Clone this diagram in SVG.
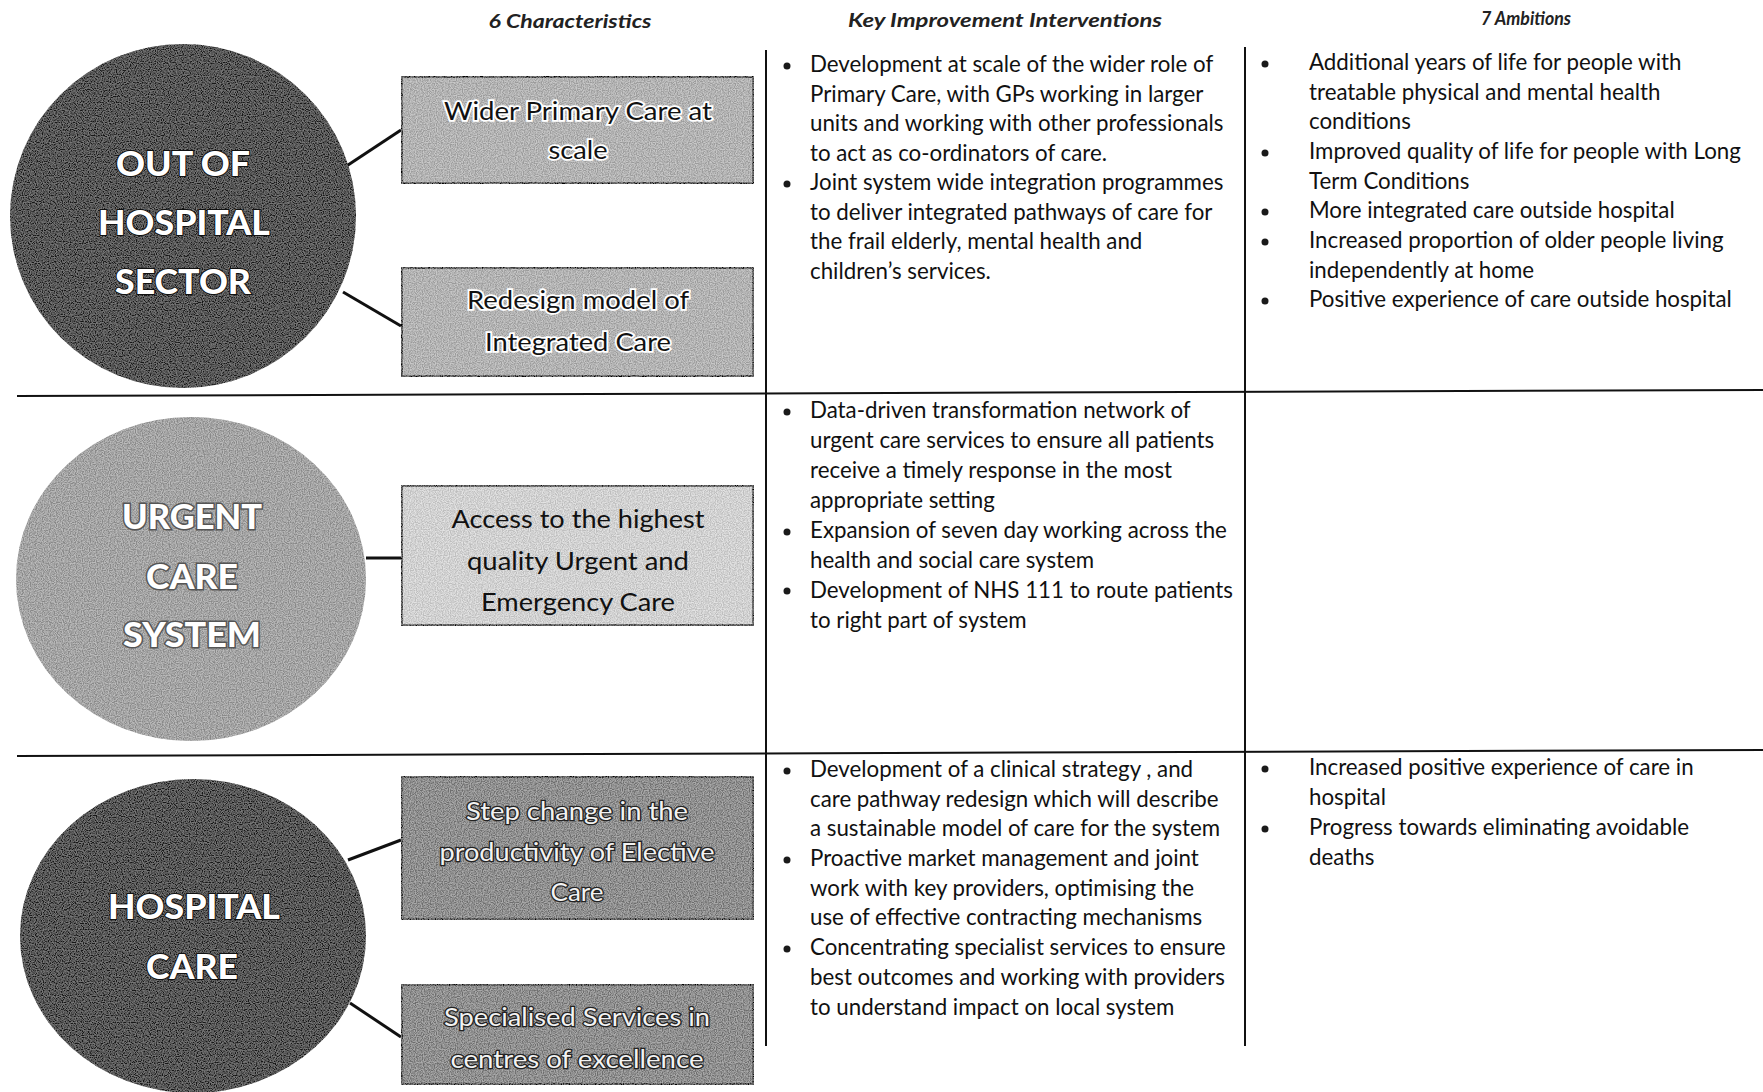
<svg xmlns="http://www.w3.org/2000/svg" width="1763" height="1092" viewBox="0 0 1763 1092">
<style>
.hdr{font-family:"Lato","Liberation Sans",sans-serif;font-style:italic;font-weight:bold;font-size:19px;fill:#222;text-anchor:middle}
.body{font-family:"Lato","Liberation Sans",sans-serif;font-size:22.3px;fill:#111}
.big{font-family:"Lato","Liberation Sans",sans-serif;font-weight:900;font-size:35px;text-anchor:middle;fill:#fff}
.bigdark{stroke:#111;stroke-width:2;paint-order:stroke}
.biglight{stroke:#555;stroke-width:3;paint-order:stroke}
.box{font-family:"Lato","Liberation Sans",sans-serif;font-size:25px;text-anchor:middle}
.bt1{fill:#111;stroke:#fff;stroke-width:3.5;paint-order:stroke}
.bt2{fill:#111}
.bt3{fill:#f2f2f2;stroke:#222;stroke-width:2.6;paint-order:stroke}
.rect{stroke:#111;stroke-width:3.5}
.grid{stroke:#111;stroke-width:2;fill:none}
.conn{stroke:#111;stroke-width:3;fill:none}
.dot{fill:#1a1a1a}
</style>
<defs>
<filter id="grain" x="0" y="0" width="100%" height="100%">
<feTurbulence type="fractalNoise" baseFrequency="0.85" numOctaves="1" seed="4" result="n"/>
<feColorMatrix in="n" type="matrix" values="3 0 0 0 -1  3 0 0 0 -1  3 0 0 0 -1  0 0 0 0 0.25" result="g"/>
<feComposite in="g" in2="SourceAlpha" operator="in" result="b"/>
<feMerge><feMergeNode in="SourceGraphic"/><feMergeNode in="b"/></feMerge>
</filter>
<filter id="grainDark" x="0" y="0" width="100%" height="100%">
<feTurbulence type="fractalNoise" baseFrequency="0.85" numOctaves="1" seed="7" result="n"/>
<feColorMatrix in="n" type="matrix" values="3 0 0 0 -1  3 0 0 0 -1  3 0 0 0 -1  0 0 0 0 0.18" result="g"/>
<feComposite in="g" in2="SourceAlpha" operator="in" result="b"/>
<feMerge><feMergeNode in="SourceGraphic"/><feMergeNode in="b"/></feMerge>
</filter>
</defs>
<rect width="1763" height="1092" fill="#fff"/>

<g id="headers">
<text class="hdr" x="570" y="28" textLength="163" lengthAdjust="spacingAndGlyphs">6 Characteristics</text>
<text class="hdr" x="1005" y="27" textLength="314" lengthAdjust="spacingAndGlyphs">Key Improvement Interventions</text>
<text class="hdr" x="1526" y="25" textLength="90" lengthAdjust="spacingAndGlyphs">7 Ambitions</text>
</g>

<g id="grid-lines">
<line class="grid" x1="17" y1="396" x2="1763" y2="390"/>
<line class="grid" x1="17" y1="756" x2="1763" y2="750"/>
<line class="grid" x1="766" y1="50" x2="766" y2="1046"/>
<line class="grid" x1="1245" y1="47" x2="1245" y2="1046"/>
</g>

<g id="connectors">
<line class="conn" x1="345" y1="167" x2="401" y2="130"/>
<line class="conn" x1="343" y1="292" x2="401" y2="326"/>
<line class="conn" x1="366" y1="558" x2="401" y2="558"/>
<line class="conn" x1="348" y1="860" x2="401" y2="840"/>
<line class="conn" x1="350" y1="1003" x2="401" y2="1037"/>
</g>

<g id="node-out-of-hospital">
<ellipse cx="183" cy="216" rx="173" ry="172" fill="#1c1c1c" filter="url(#grainDark)"/>
<text class="big bigdark" x="183" y="176" textLength="134" lengthAdjust="spacingAndGlyphs">OUT OF</text>
<text class="big bigdark" x="184" y="235" textLength="172" lengthAdjust="spacingAndGlyphs">HOSPITAL</text>
<text class="big bigdark" x="183" y="294" textLength="136" lengthAdjust="spacingAndGlyphs">SECTOR</text>
</g>

<g id="node-urgent-care">
<ellipse cx="191" cy="579" rx="175" ry="162" fill="#9c9c9c" filter="url(#grain)"/>
<text class="big biglight" x="192" y="529" textLength="140" lengthAdjust="spacingAndGlyphs">URGENT</text>
<text class="big biglight" x="192" y="589" textLength="92" lengthAdjust="spacingAndGlyphs">CARE</text>
<text class="big biglight" x="192" y="647" textLength="138" lengthAdjust="spacingAndGlyphs">SYSTEM</text>
</g>

<g id="node-hospital-care">
<ellipse cx="193" cy="936" rx="173" ry="157" fill="#1c1c1c" filter="url(#grainDark)"/>
<text class="big bigdark" x="194" y="919" textLength="172" lengthAdjust="spacingAndGlyphs">HOSPITAL</text>
<text class="big bigdark" x="192" y="979" textLength="92" lengthAdjust="spacingAndGlyphs">CARE</text>
</g>

<g id="node-wider-primary-care">
<rect class="rect" x="401" y="76" width="353" height="108" fill="#b0b0b0" filter="url(#grain)"/>
<text class="box bt1" x="578" y="120" textLength="268" lengthAdjust="spacingAndGlyphs">Wider Primary Care at</text>
<text class="box bt1" x="578" y="159" textLength="59" lengthAdjust="spacingAndGlyphs">scale</text>
</g>

<g id="node-redesign-integrated-care">
<rect class="rect" x="401" y="267" width="353" height="110" fill="#b0b0b0" filter="url(#grain)"/>
<text class="box bt1" x="578" y="309" textLength="222" lengthAdjust="spacingAndGlyphs">Redesign model of</text>
<text class="box bt1" x="578" y="351" textLength="186" lengthAdjust="spacingAndGlyphs">Integrated Care</text>
</g>

<g id="node-urgent-emergency-access">
<rect class="rect" x="401" y="485" width="353" height="141" fill="#d8d8d8" filter="url(#grain)"/>
<text class="box bt2" x="578" y="528" textLength="253" lengthAdjust="spacingAndGlyphs">Access to the highest</text>
<text class="box bt2" x="578" y="570" textLength="222" lengthAdjust="spacingAndGlyphs">quality Urgent and</text>
<text class="box bt2" x="578" y="611" textLength="194" lengthAdjust="spacingAndGlyphs">Emergency Care</text>
</g>

<g id="node-elective-productivity">
<rect class="rect" x="401" y="776" width="353" height="144" fill="#7e7e7e" filter="url(#grain)"/>
<text class="box bt3" x="577" y="820" textLength="222" lengthAdjust="spacingAndGlyphs">Step change in the</text>
<text class="box bt3" x="577" y="861" textLength="275" lengthAdjust="spacingAndGlyphs">productivity of Elective</text>
<text class="box bt3" x="577" y="901" textLength="53" lengthAdjust="spacingAndGlyphs">Care</text>
</g>

<g id="node-specialised-services">
<rect class="rect" x="401" y="984" width="353" height="101" fill="#7e7e7e" filter="url(#grain)"/>
<text class="box bt3" x="577" y="1026" textLength="266" lengthAdjust="spacingAndGlyphs">Specialised Services in</text>
<text class="box bt3" x="577" y="1068" textLength="253" lengthAdjust="spacingAndGlyphs">centres of excellence</text>
</g>

<g id="interventions-out-of-hospital">
<circle class="dot" cx="787" cy="66" r="3.5"/>
<circle class="dot" cx="787" cy="184" r="3.5"/>
<text class="body" x="810" y="72">Development at scale of the wider role of</text>
<text class="body" x="810" y="101.5">Primary Care, with GPs working in larger</text>
<text class="body" x="810" y="131">units and working with other professionals</text>
<text class="body" x="810" y="160.5">to act as co-ordinators of care.</text>
<text class="body" x="810" y="190">Joint system wide integration programmes</text>
<text class="body" x="810" y="219.5">to deliver integrated pathways of care for</text>
<text class="body" x="810" y="249">the frail elderly, mental health and</text>
<text class="body" x="810" y="278.5">children’s services.</text>
</g>

<g id="ambitions-out-of-hospital">
<circle class="dot" cx="1265" cy="64" r="3.5"/>
<circle class="dot" cx="1265" cy="153" r="3.5"/>
<circle class="dot" cx="1265" cy="212" r="3.5"/>
<circle class="dot" cx="1265" cy="242" r="3.5"/>
<circle class="dot" cx="1265" cy="301" r="3.5"/>
<text class="body" x="1309" y="70">Additional years of life for people with</text>
<text class="body" x="1309" y="99.5">treatable physical and mental health</text>
<text class="body" x="1309" y="129">conditions</text>
<text class="body" x="1309" y="159">Improved quality of life for people with Long</text>
<text class="body" x="1309" y="188.5">Term Conditions</text>
<text class="body" x="1309" y="218">More integrated care outside hospital</text>
<text class="body" x="1309" y="248">Increased proportion of older people living</text>
<text class="body" x="1309" y="277.5">independently at home</text>
<text class="body" x="1309" y="307">Positive experience of care outside hospital</text>
</g>

<g id="interventions-urgent-care">
<circle class="dot" cx="787" cy="412" r="3.5"/>
<circle class="dot" cx="787" cy="532" r="3.5"/>
<circle class="dot" cx="787" cy="591" r="3.5"/>
<text class="body" x="810" y="418">Data-driven transformation network of</text>
<text class="body" x="810" y="448">urgent care services to ensure all patients</text>
<text class="body" x="810" y="478">receive a timely response in the most</text>
<text class="body" x="810" y="508">appropriate setting</text>
<text class="body" x="810" y="538">Expansion of seven day working across the</text>
<text class="body" x="810" y="568">health and social care system</text>
<text class="body" x="810" y="598">Development of NHS 111 to route patients</text>
<text class="body" x="810" y="628">to right part of system</text>
</g>

<g id="interventions-hospital-care">
<circle class="dot" cx="787" cy="771" r="3.5"/>
<circle class="dot" cx="787" cy="860" r="3.5"/>
<circle class="dot" cx="787" cy="949" r="3.5"/>
<text class="body" x="810" y="777">Development of a clinical strategy , and</text>
<text class="body" x="810" y="806.5">care pathway redesign which will describe</text>
<text class="body" x="810" y="836">a sustainable model of care for the system</text>
<text class="body" x="810" y="866">Proactive market management and joint</text>
<text class="body" x="810" y="895.5">work with key providers, optimising the</text>
<text class="body" x="810" y="925">use of effective contracting mechanisms</text>
<text class="body" x="810" y="955">Concentrating specialist services to ensure</text>
<text class="body" x="810" y="985">best outcomes and working with providers</text>
<text class="body" x="810" y="1015">to understand impact on local system</text>
</g>

<g id="ambitions-hospital-care">
<circle class="dot" cx="1265" cy="769" r="3.5"/>
<circle class="dot" cx="1265" cy="829" r="3.5"/>
<text class="body" x="1309" y="775">Increased positive experience of care in</text>
<text class="body" x="1309" y="805">hospital</text>
<text class="body" x="1309" y="835">Progress towards eliminating avoidable</text>
<text class="body" x="1309" y="865">deaths</text>
</g>
</svg>
